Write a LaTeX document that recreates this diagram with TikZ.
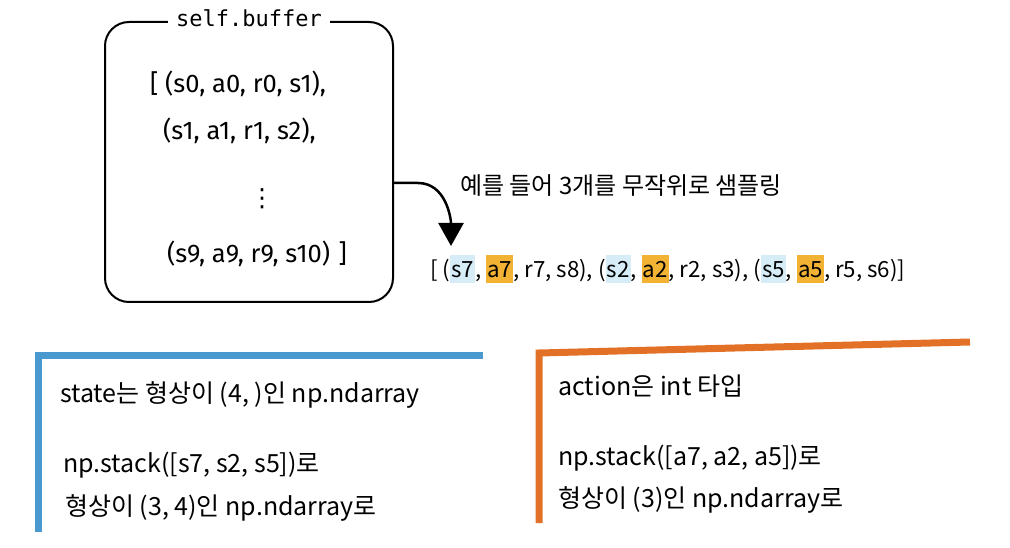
\documentclass[tikz,border=0pt]{standalone}
\usepackage{fontspec}
\setmainfont{Noto Sans CJK KR}
\newfontfamily\buffont{Fira Sans}
\newfontfamily\bufmono{DejaVu Sans Mono}
\newfontfamily\dejavu{DejaVu Sans}
\usetikzlibrary{arrows.meta}
\definecolor{pblue}{RGB}{74,152,208}
\definecolor{porange}{RGB}{226,112,38}
\definecolor{hlblue}{RGB}{214,236,246}
\definecolor{hlorange}{RGB}{242,178,52}
\newcommand\hlbox[2]{{\setlength\fboxsep{0pt}\colorbox{#1}{\rule[-5pt]{0pt}{28pt}\hspace{1pt}#2\hspace{1pt}}}}
\begin{document}
\begin{tikzpicture}[x=1pt,y=-1pt,
  buftxt/.style={font=\buffont\fontsize{25.5}{29}\selectfont, anchor=base west, inner sep=0pt},
  kotxt/.style={font=\fontsize{25}{29}\selectfont, anchor=base west, inner sep=0pt},
  arr/.style={line width=2.5pt, -{Triangle[width=25pt,length=23pt]}},
  panelline/.style={line width=7pt, line join=miter, line cap=butt},
]
\useasboundingbox (0,0) rectangle (1010,548);
% buffer box
\node[draw, line width=2pt, rounded corners=24pt, minimum width=288pt, minimum height=280pt, inner sep=0pt] (buf) at (249,162) {};
\node[fill=white, inner xsep=8pt, inner ysep=2pt, anchor=base, font=\bufmono\fontsize{22}{26}\selectfont] (title) at (249,27) {self.buffer};
\node[buftxt] (b1) at (150,93) {[ (s0, a0, r0, s1),};
\node[buftxt] (b2) at (163,140) {(s1, a1, r1, s2),};
\node[font=\dejavu\fontsize{25}{28}\selectfont, inner sep=0pt, anchor=base] (dots) at (262,207) {⋮};
\node[buftxt] (b4) at (167,263) {(s9, a9, r9, s10)\,\,]};
% sampling arrow
\coordinate (tip) at (451,246);
\draw[arr] ([yshift=-21pt]buf.east) -- ++(24,0) to[out=0,in=90] (tip);
\node[kotxt, font=\fontsize{24}{28}\selectfont] (lbl) at (460,195) {예를 들어 3개를 무작위로 샘플링};
\node[kotxt, font=\fontsize{22.3}{26}\selectfont] (sample) at (430,278) {[ (\hlbox{hlblue}{s7}, \hlbox{hlorange}{a7}, r7, s8), (\hlbox{hlblue}{s2}, \hlbox{hlorange}{a2}, r2, s3), (\hlbox{hlblue}{s5}, \hlbox{hlorange}{a5}, r5, s6)]};
% blue panel
\draw[pblue, panelline] (38.5,532) -- (38.5,355) -- (483,355);
\node[kotxt] (st1) at (60,402) {state는 형상이 (4, )인 np.ndarray};
\node[kotxt] (st2) at (63,472) {np.stack([s7, s2, s5])로};
\node[kotxt] (st3) at (65,515) {형상이 (3, 4)인 np.ndarray로};
% orange panel
\draw[porange, panelline] (539,523) -- (539,353) -- (970,342);
\node[kotxt] (ac1) at (558,395) {action은 int 타입};
\node[kotxt] (ac2) at (558,465) {np.stack([a7, a2, a5])로};
\node[kotxt] (ac3) at (558,507) {형상이 (3)인 np.ndarray로};
\end{tikzpicture}
\end{document}
